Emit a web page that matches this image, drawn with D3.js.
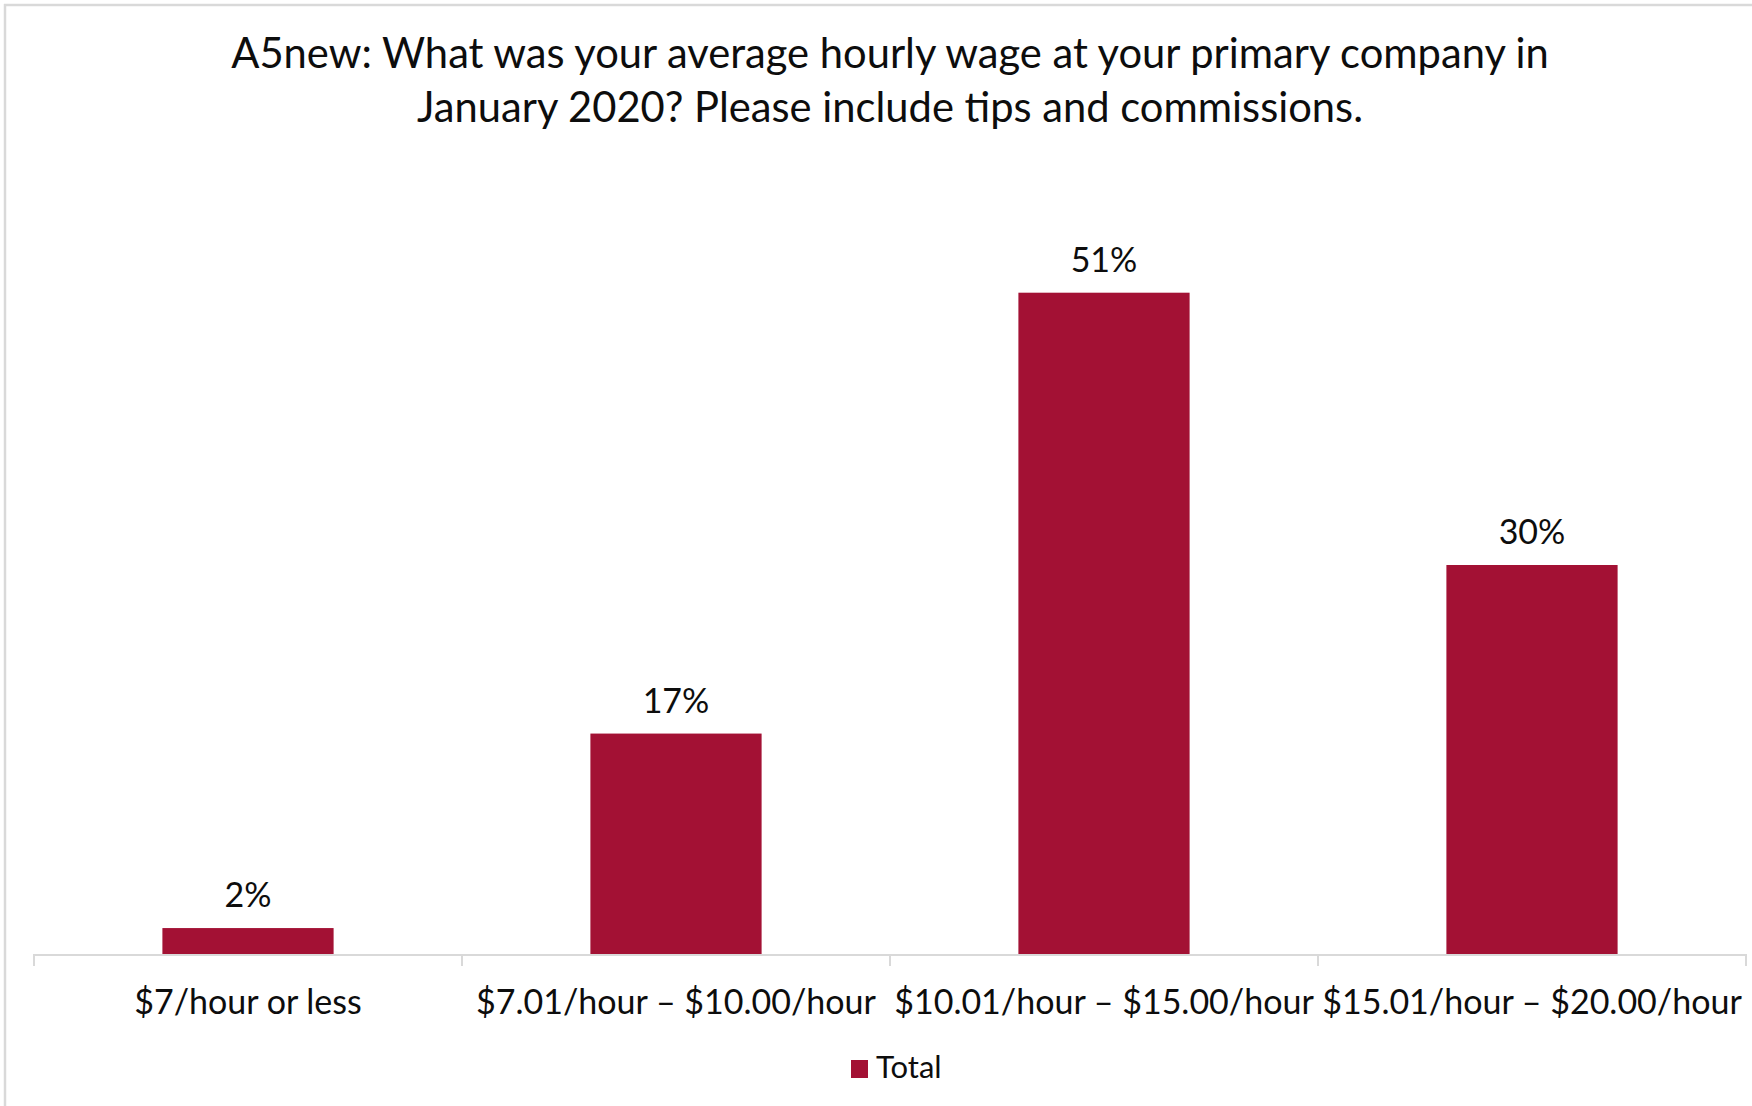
<!DOCTYPE html>
<html>
<head>
<meta charset="utf-8">
<script src="https://cdn.jsdelivr.net/npm/d3@7"></script>
<style>
  html, body { margin: 0; padding: 0; background: #fff; }
  svg { display: block; font-family: Lato, "Open Sans", sans-serif; }
</style>
</head>
<body>
<svg id="chart" width="1752" height="1106"></svg>
<script>
// Survey answers: average hourly wage in January 2020
const categories = [
  "$7/hour or less",
  "$7.01/hour \u2013 $10.00/hour",
  "$10.01/hour \u2013 $15.00/hour",
  "$15.01/hour \u2013 $20.00/hour"
];
const totalValues = [0.02, 0.17, 0.51, 0.30];
const seriesName = "Total";
const titleLines = [
  "A5new: What was your average hourly wage at your primary company in",
  "January 2020? Please include tips and commissions."
];

const W = 1752, H = 1106;
const barColor = "#A31134";
const axisColor = "#d9d9d9";
const textColor = "#0d0d0d";

const svg = d3.select("#chart");

// chart-area frame (top and left edges)
svg.append("line").attr("x1", 4).attr("x2", W).attr("y1", 5).attr("y2", 5)
  .attr("stroke", axisColor).attr("stroke-width", 2.5);
svg.append("line").attr("x1", 5).attr("x2", 5).attr("y1", 4).attr("y2", H)
  .attr("stroke", axisColor).attr("stroke-width", 2.5);

// title
svg.append("g").selectAll("text").data(titleLines).join("text")
  .attr("x", 890)
  .attr("y", (d, i) => 68 + i * 54)
  .attr("text-anchor", "middle")
  .attr("font-size", 41.7)
  .attr("fill", textColor)
  .text(d => d);

const plot = { left: 34, right: 1746, top: 176, bottom: 954 };

const x = d3.scaleBand()
  .domain(categories)
  .range([plot.left, plot.right])
  .paddingInner(0.6)
  .paddingOuter(0.3);

const y = d3.scaleLinear()
  .domain([0, 0.6])
  .range([plot.bottom, plot.top]);

// bars
svg.append("g").selectAll("rect").data(totalValues).join("rect")
  .attr("x", (d, i) => x(categories[i]))
  .attr("width", x.bandwidth())
  .attr("y", d => y(d))
  .attr("height", d => y(0) - y(d))
  .attr("fill", barColor);

// category axis with boundary ticks
const boundaries = d3.range(categories.length + 1).map(i => plot.left + i * (plot.right - plot.left) / categories.length);
const axisG = svg.append("g");
axisG.append("line")
  .attr("x1", plot.left).attr("x2", plot.right)
  .attr("y1", y(0) + 1).attr("y2", y(0) + 1)
  .attr("stroke", axisColor).attr("stroke-width", 2);
axisG.selectAll("line.tick").data(boundaries).join("line")
  .attr("class", "tick")
  .attr("x1", d => d).attr("x2", d => d)
  .attr("y1", y(0)).attr("y2", y(0) + 12)
  .attr("stroke", axisColor).attr("stroke-width", 2);

axisG.selectAll("text").data(categories).join("text")
  .attr("x", d => x(d) + x.bandwidth() / 2)
  .attr("y", 1014)
  .attr("text-anchor", "middle")
  .attr("font-size", 34)
  .attr("fill", textColor)
  .text(d => d);

// data labels
const fmt = d3.format(".0%");
svg.append("g").selectAll("text").data(totalValues).join("text")
  .attr("x", (d, i) => x(categories[i]) + x.bandwidth() / 2)
  .attr("y", d => y(d) - 21)
  .attr("text-anchor", "middle")
  .attr("font-size", 34)
  .attr("fill", textColor)
  .text(d => fmt(d));

// legend
const legend = svg.append("g").attr("transform", "translate(851,1060)");
legend.append("rect").attr("width", 17).attr("height", 18).attr("fill", barColor);
legend.append("text").attr("x", 25).attr("y", 18)
  .attr("font-size", 31).attr("fill", textColor).text(seriesName);
</script>
</body>
</html>
